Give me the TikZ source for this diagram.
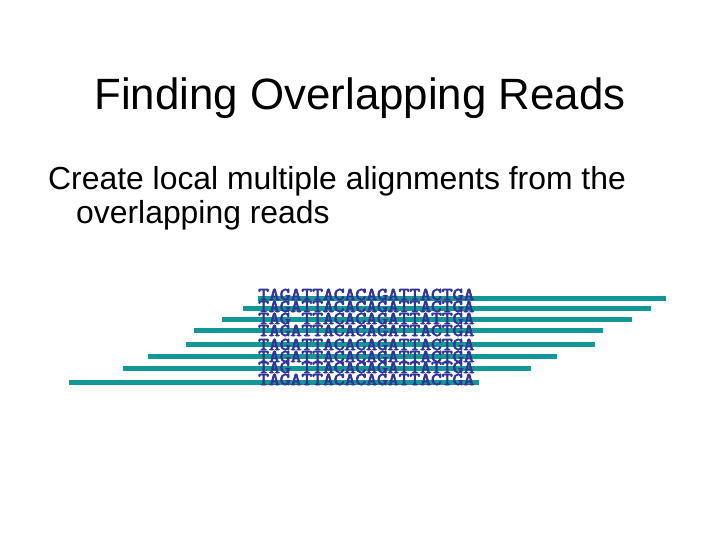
\documentclass[tikz,border=0pt]{standalone}
\usepackage{fontspec}
\setmainfont{Liberation Sans}
\newfontfamily\seqfont[FakeStretch=1.17,FakeBold=4]{Latin Modern Mono}
\definecolor{barteal}{RGB}{18,150,150}
\definecolor{seqblue}{RGB}{48,52,150}
\begin{document}
\begin{tikzpicture}[x=1bp,y=-1bp,
  bar/.style={draw=barteal,line width=5bp},
  seqrow/.style={anchor=base west,inner sep=0pt,text=seqblue,font=\seqfont\fontsize{18}{18}\selectfont},
]
\useasboundingbox[fill=white] (0,0) rectangle (720,540);
\node[anchor=base,inner sep=0pt,font=\fontsize{44}{50}\selectfont] (title) at (360,109.5) {Finding Overlapping Reads};
\node[anchor=base west,inner sep=0pt,font=\fontsize{32}{38}\selectfont] (line1) at (48,190) {Create local multiple alignments from the};
\node[anchor=base west,inner sep=0pt,font=\fontsize{32}{38}\selectfont] (line2) at (76,224) {overlapping reads};
% bars
\draw[bar] (258,298) -- (666,298);
\draw[bar] (243,308) -- (651,308);
\draw[bar] (222,319) -- (632,319);
\draw[bar] (194,330) -- (603,330);
\draw[bar] (186,344) -- (595,344);
\draw[bar] (148,356) -- (557,356);
\draw[bar] (123,368) -- (531,368);
\draw[bar] (69,382) -- (479,382);
% sequences
\node[seqrow] (s1) at (258,300) {TAGATTACACAGATTACTGA};
\node[seqrow] (s2) at (258,312) {TAGATTACACAGATTACTGA};
\node[seqrow] (s3) at (258,324) {TAG\ TTACACAGATTATTGA};
\node[seqrow] (s4) at (258,336) {TAGATTACACAGATTACTGA};
\node[seqrow] (s5) at (258,350) {TAGATTACACAGATTACTGA};
\node[seqrow] (s6) at (258,362) {TAGATTACACAGATTACTGA};
\node[seqrow] (s7) at (258,373) {TAG\ TTACACAGATTATTGA};
\node[seqrow] (s8) at (258,385) {TAGATTACACAGATTACTGA};
\end{tikzpicture}
\end{document}
